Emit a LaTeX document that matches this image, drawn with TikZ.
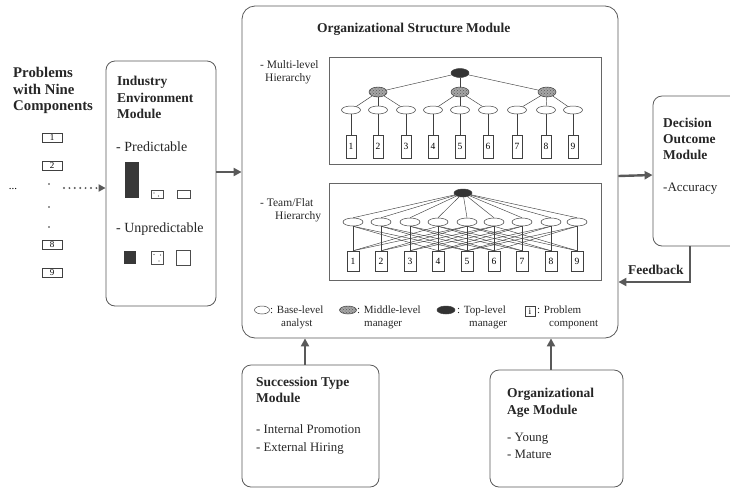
\documentclass[tikz,border=0pt]{standalone}
\usepackage{fontspec}
\setmainfont{Liberation Serif}
\usetikzlibrary{arrows.meta,patterns,shapes.geometric}

\begin{document}
\begin{tikzpicture}[x=1pt,y=-1pt,
  module/.style={draw=black!65, line width=0.8pt, rounded corners=9pt, inner sep=0pt},
  title/.style={font=\fontsize{13.5}{16.5}\selectfont\bfseries, align=left, anchor=north west, inner sep=0pt, text=black!85},
  body/.style={font=\fontsize{12.5}{17}\selectfont, align=left, anchor=north west, inner sep=0pt, text=black!85},
  small/.style={font=\fontsize{11.5}{13.5}\selectfont, align=left, anchor=north west, inner sep=0pt, text=black!85},
  legend/.style={font=\fontsize{11}{13}\selectfont, align=left, anchor=north west, inner sep=0pt, text=black!85},
  frame/.style={draw=black!60, line width=0.7pt, inner sep=0pt},
  oval/.style={ellipse, draw=black!75, line width=0.5pt, inner sep=0pt},
  analyst/.style={oval, fill=white, minimum width=19pt, minimum height=8pt},
  middle/.style={oval, fill=black!35, postaction={pattern=crosshatch dots, pattern color=black!65}, minimum width=18pt, minimum height=10pt},
  toplevel/.style={oval, fill=black!80, minimum width=18pt, minimum height=9pt},
  comp/.style={rectangle, draw=black!75, line width=0.5pt, fill=white, inner sep=0pt,
    minimum width=10pt, minimum height=23pt, font=\fontsize{9.5}{10}\selectfont},
  link/.style={draw=black!75, line width=0.45pt},
  flow/.style={draw=black!65, line width=2.4pt, -{Triangle[length=8pt,width=8pt]}},
  dotflow/.style={draw=black!65, line width=2.2pt, line cap=round, dash pattern=on 0pt off 5.4pt,
    -{Triangle[length=7pt,width=7pt]}},
]
\useasboundingbox (0,0) rectangle (730,488);
\clip (0,0) rectangle (730,488);

% ---------------- problem set ----------------
\node[title, font=\fontsize{14.8}{16.5}\selectfont\bfseries] (probs) at (13,67.5) {Problems\\with Nine\\Components};
\foreach \n/\y in {1/137.5,2/166,8/244.5,9/272.5}
  \node[comp, minimum width=20pt, minimum height=9pt, font=\fontsize{9}{9}\selectfont] (p\n) at (52,\y) {\n};
\foreach \y in {184,207,227} \fill[black!80] (49,\y) circle (0.8);
\node[font=\fontsize{11}{11}\selectfont, anchor=base, inner sep=0pt] (more) at (13,189) {...};
\coordinate (pin) at (64,188);

% ---------------- industry environment ----------------
\node[module, minimum width=110pt, minimum height=245pt] (ind) at (161,183.5) {};
\node[title] (indt) at (117,76) {Industry\\Environment\\Module};
\node[body, font=\fontsize{14}{17}\selectfont] (pred) at (116,142) {- Predictable};
\node[body, font=\fontsize{14}{17}\selectfont] (unpred) at (116,223) {- Unpredictable};
\fill[black!78] (125,162) rectangle (139,198);
\draw[black!70, line width=0.5pt] (151,190) rectangle (163,198);
\fill[black!75] (154,193) circle (0.6) (158.5,196) circle (0.6);
\draw[black!70, line width=0.5pt] (177,190) rectangle (190,198);
\fill[black!78] (124,251) rectangle (136,264);
\draw[black!70, line width=0.5pt] (151,251) rectangle (163,264);
\fill[black!75] (154,254.5) circle (0.6) (160.5,255) circle (0.6) (159,261) circle (0.6);
\draw[black!70, line width=0.5pt] (176,250) rectangle (190,265);

% ---------------- organizational structure ----------------
\node[module, rounded corners=13pt, minimum width=376pt, minimum height=332pt] (org) at (430,172) {};
\node[title] (orgt) at (317,23) {Organizational Structure Module};

% multi-level hierarchy
\node[small] (mlab) at (260,60) {- Multi-level\\\hspace*{5pt}Hierarchy};
\node[frame, minimum width=272pt, minimum height=107pt] (mframe) at (465,110.5) {};
\node[toplevel] (mt) at (460,73) {};
\foreach \x [count=\i] in {378,460,547} \node[middle] (mm\i) at (\x,92) {};
\foreach \x [count=\i] in {351,378,406,433,460,488,517,546,573} {
  \node[analyst] (ma\i) at (\x,110) {};
  \node[comp] (mc\i) at (\x,146.5) {\i};
}
\foreach \i in {1,2,3} \draw[link] (mt) -- (mm\i);
\foreach \m/\a in {1/1,1/2,1/3,2/4,2/5,2/6,3/7,3/8,3/9} \draw[link] (mm\m) -- (ma\a);
\foreach \i in {1,...,9} \draw[link] (ma\i) -- (mc\i);

% team / flat hierarchy
\node[small] (flab) at (260,198) {- Team/Flat\\\hspace*{15pt}Hierarchy};
\node[frame, minimum width=272pt, minimum height=97pt] (fframe) at (465,231.5) {};
\node[toplevel, minimum height=8pt] (ft) at (463,193) {};
\foreach \x [count=\i] in {353,381,410,438,467,494,522,551,577} {
  \node[analyst, minimum width=20pt] (fa\i) at (\x,222) {};
  \node[comp, minimum width=12pt, minimum height=20pt] (fc\i) at (\x,261) {\i};
}
\foreach \i in {1,...,9} {
  \draw[link] (ft) -- (fa\i.north);
  \draw[link] (fa\i.south) -- (fc\i.north);
}
\foreach \i/\j in {1/4,1/5,2/5,2/6,3/6,3/7,4/7,4/8,5/8,5/9,6/9,
                   4/1,5/1,5/2,6/2,6/3,7/3,7/4,8/4,8/5,9/5,9/6}
  \draw[link] (fa\i.south) -- (fc\j.north);

% legend
\node[analyst, minimum width=15pt] (lb) at (262,310) {};
\node[legend] (lbt) at (270,306) {: Base-level\\\hspace*{11pt}analyst};
\node[middle, minimum width=17pt, minimum height=8pt] (lm) at (348,310) {};
\node[legend] (lmt) at (357,306) {: Middle-level\\\hspace*{7pt}manager};
\node[toplevel, minimum height=8pt] (lt) at (446,310) {};
\node[legend] (ltt) at (457,306) {: Top-level\\\hspace*{12pt}manager};
\node[comp, minimum width=10pt, minimum height=10pt, font=\fontsize{9.5}{10}\selectfont] (lc) at (530,311.5) {i};
\node[legend] (lct) at (537,306) {: Problem\\\hspace*{12pt}component};

% ---------------- decision outcome ----------------
\node[module, minimum width=92pt, minimum height=150pt] (dec) at (699,171) {};
\node[title, font=\fontsize{13.5}{16}\selectfont\bfseries] (dect) at (663,118) {Decision\\Outcome\\Module};
\node[body, font=\fontsize{13}{17}\selectfont] (acc) at (663,183) {-Accuracy};
\node[title] (fb) at (628,265) {Feedback};

% ---------------- succession type ----------------
\node[module, minimum width=137pt, minimum height=122pt] (suc) at (310.5,426) {};
\node[title, font=\fontsize{13.5}{15.5}\selectfont\bfseries] (suct) at (256,377) {Succession Type\\Module};
\node[body, font=\fontsize{12.8}{18}\selectfont] (sucb) at (256,424.5) {- Internal Promotion\\- External Hiring};

% ---------------- organizational age ----------------
\node[module, minimum width=133pt, minimum height=117pt] (age) at (556.5,428.5) {};
\node[title, font=\fontsize{13.5}{17}\selectfont\bfseries] (aget) at (507,388) {Organizational\\Age Module};
\node[body, font=\fontsize{12.8}{17}\selectfont] (ageb) at (507,432.5) {- Young\\- Mature};

% ---------------- connectors ----------------
\draw[dotflow] (pin) -- (ind.west |- pin);
\draw[flow] (ind.east |- org.center) -- (org.west);
\draw[flow] ([yshift=-4pt]org.east) -- ([yshift=-4pt]dec.west);
\draw[flow] ([xshift=-9pt]dec.south) |- ([yshift=-110pt]org.east);
\draw[flow] ([xshift=-5.5pt]suc.north) -- ([xshift=-5.5pt]suc.north |- org.south);
\draw[flow] ([xshift=-5.5pt]age.north) -- ([xshift=-5.5pt]age.north |- org.south);
\end{tikzpicture}
\end{document}
